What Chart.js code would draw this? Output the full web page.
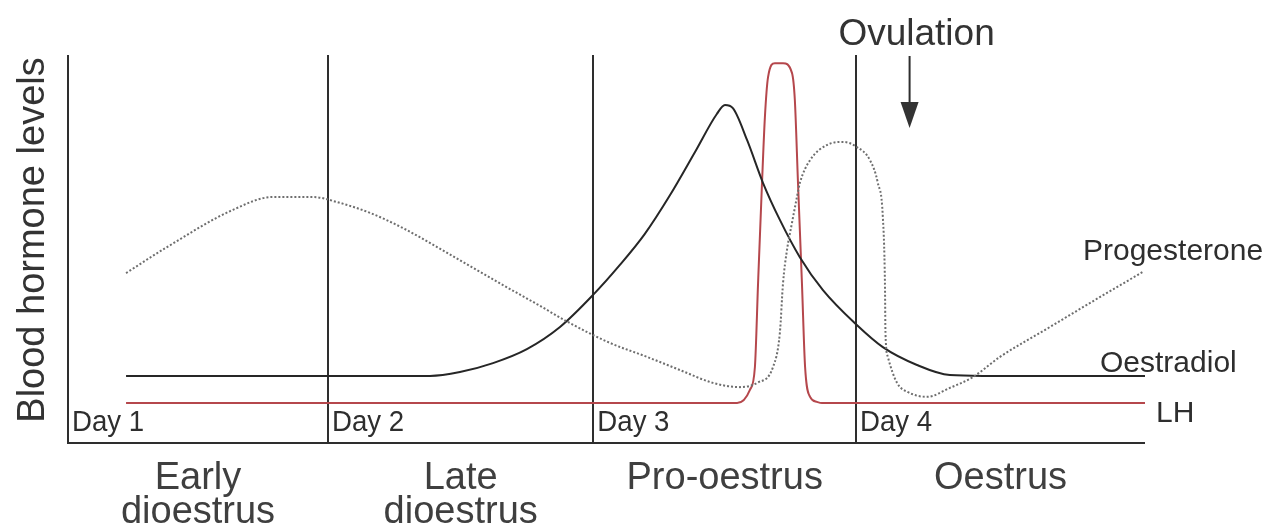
<!DOCTYPE html>
<html>
<head>
<meta charset="utf-8">
<script src="https://cdn.jsdelivr.net/npm/chart.js@4"></script>
<style>
  html, body { margin: 0; padding: 0; background: #fff; }
  #wrap { width: 1274px; height: 531px; }
</style>
</head>
<body>
<div id="wrap"><canvas id="cycleChart" width="1274" height="531"></canvas></div>
<script>
// Ciclo estral: niveles hormonales (x en días desde Day 1, y en unidades relativas 0-100)
const dayLines = [0.99, 2.0, 3.0];
const dayLabels = ['Day 1', 'Day 2', 'Day 3', 'Day 4'];
const phaseLabels = [['Early', 'dioestrus'], ['Late', 'dioestrus'], ['Pro-oestrus'], ['Oestrus']];
const xMax = 4.1;

const progX = [0.221, 0.377, 0.628, 0.780, 0.933, 1.024, 1.150, 1.275, 1.405, 1.530, 1.656, 1.785, 1.911, 2.063,
  2.204, 2.330, 2.455, 2.558, 2.623, 2.684, 2.710, 2.722, 2.737, 2.756, 2.775, 2.786, 2.825, 2.889, 2.950,
  3.003, 3.053, 3.083, 3.102, 3.110, 3.112, 3.121, 3.156, 3.198, 3.270, 3.357, 3.445, 3.548, 3.738, 3.928, 4.092];
const progY = [43.8, 50.5, 60.1, 63.4, 63.4, 62.1, 59.3, 55.4, 50.5, 45.6, 40.7, 35.8, 30.9, 25.8,
  22.2, 18.8, 15.5, 14.4, 15.5, 19.6, 28.4, 41.2, 49.7, 56.7, 63.4, 67.0, 72.9, 76.8, 77.6,
  76.3, 72.9, 67.0, 58.2, 41.2, 28.4, 22.2, 15.5, 13.1, 11.9, 14.2, 17.0, 22.2, 29.9, 37.6, 44.1];

const oestX = [0.221, 1.378, 1.492, 1.618, 1.747, 1.873, 1.998, 2.101, 2.196, 2.292, 2.387,
  2.470, 2.501, 2.531, 2.585, 2.646, 2.710, 2.786, 2.874, 3.003, 3.102, 3.232, 3.357, 3.483, 4.100];
const oestY = [17.3, 17.3, 18.3, 20.6, 24.2, 29.9, 38.1, 45.9, 53.9, 63.9, 75.0,
  84.8, 87.1, 86.3, 78.1, 67.0, 57.5, 47.9, 39.4, 30.4, 24.7, 20.1, 17.5, 17.3, 17.3];

const lhX = [0.221, 2.547, 2.596, 2.615, 2.627, 2.642, 2.653, 2.665, 2.691, 2.722, 2.756, 2.767, 2.779,
  2.794, 2.806, 2.825, 2.851, 2.870, 4.100];
const lhY = [10.3, 10.3, 13.7, 19.6, 41.2, 67.0, 84.0, 94.3, 97.9, 97.9, 95.4, 88.4, 67.0,
  41.2, 19.6, 11.9, 10.6, 10.3, 10.3];

function toPoints(xs, ys) {
  return xs.map((x, i) => ({ x: x, y: ys[i] }));
}

const INK = '#2e2e2e';
const FONT = '"Liberation Sans", Arial, sans-serif';

// Ejes, líneas de días y textos
const diagramPlugin = {
  id: 'diagram',
  beforeDatasetsDraw(chart) {
    const { ctx, chartArea, scales } = chart;
    const xs = scales.x;
    ctx.save();
    ctx.strokeStyle = INK;
    ctx.lineWidth = 2;
    ctx.beginPath();
    ctx.moveTo(chartArea.left, chartArea.top);
    ctx.lineTo(chartArea.left, chartArea.bottom);
    ctx.lineTo(chartArea.right, chartArea.bottom);
    dayLines.forEach(d => {
      const px = Math.round(xs.getPixelForValue(d));
      ctx.moveTo(px, chartArea.top);
      ctx.lineTo(px, chartArea.bottom);
    });
    ctx.stroke();
    ctx.restore();
  },
  afterDatasetsDraw(chart) {
    const { ctx, chartArea, scales } = chart;
    const xs = scales.x;
    const ys = scales.y;
    const starts = [0].concat(dayLines);
    const ends = dayLines.concat([xMax]);
    ctx.save();
    ctx.fillStyle = INK;
    ctx.textBaseline = 'alphabetic';

    // Day labels (algo condensadas)
    ctx.font = '30px ' + FONT;
    ctx.textAlign = 'left';
    starts.forEach((d, i) => {
      const px = xs.getPixelForValue(d) + 4;
      ctx.save();
      ctx.translate(px, chartArea.bottom - 12);
      ctx.scale(0.92, 1);
      ctx.fillText(dayLabels[i], 0, 0);
      ctx.restore();
    });

    // Fases del ciclo
    ctx.fillStyle = '#3f3f3f';
    ctx.font = '38px ' + FONT;
    ctx.textAlign = 'center';
    phaseLabels.forEach((lines, i) => {
      const cx = xs.getPixelForValue((starts[i] + ends[i]) / 2);
      lines.forEach((t, j) => {
        ctx.fillText(t, cx, chartArea.bottom + 46 + j * 34);
      });
    });

    // Nombres de las curvas
    ctx.fillStyle = INK;
    ctx.font = '30px ' + FONT;
    ctx.textAlign = 'left';
    ctx.fillText('Progesterone', chartArea.right - 62, 260);
    ctx.fillText('Oestradiol', chartArea.right - 45, ys.getPixelForValue(17.3) - 4);
    ctx.fillText('LH', chartArea.right + 11, ys.getPixelForValue(10.3) + 19);

    // Ovulación
    const ovX = xs.getPixelForValue(3.2);
    ctx.font = '37px ' + FONT;
    ctx.textAlign = 'center';
    ctx.fillStyle = '#333';
    ctx.fillText('Ovulation', ovX + 8, 45);
    ctx.strokeStyle = INK;
    ctx.lineWidth = 2;
    ctx.beginPath();
    ctx.moveTo(ovX + 1, 56);
    ctx.lineTo(ovX + 1, 104);
    ctx.stroke();
    ctx.beginPath();
    ctx.moveTo(ovX - 8, 102);
    ctx.lineTo(ovX + 10, 102);
    ctx.lineTo(ovX + 1, 128);
    ctx.closePath();
    ctx.fill();

    // Título del eje Y
    ctx.save();
    ctx.translate(44, 240);
    ctx.rotate(-Math.PI / 2);
    ctx.font = '38px ' + FONT;
    ctx.fillStyle = '#333';
    ctx.textAlign = 'center';
    ctx.fillText('Blood hormone levels', 0, 0);
    ctx.restore();

    ctx.restore();
  }
};

new Chart(document.getElementById('cycleChart'), {
  type: 'line',
  data: {
    datasets: [
      {
        label: 'Progesterone',
        data: toPoints(progX, progY),
        borderColor: '#6e6e6e',
        borderWidth: 2,
        borderDash: [2, 2],
        pointRadius: 0,
        cubicInterpolationMode: 'monotone',
        fill: false
      },
      {
        label: 'Oestradiol',
        data: toPoints(oestX, oestY),
        borderColor: '#262626',
        borderWidth: 2,
        pointRadius: 0,
        cubicInterpolationMode: 'monotone',
        fill: false
      },
      {
        label: 'LH',
        data: toPoints(lhX, lhY),
        borderColor: '#b5474c',
        borderWidth: 2,
        pointRadius: 0,
        cubicInterpolationMode: 'monotone',
        fill: false
      }
    ]
  },
  options: {
    responsive: false,
    animation: false,
    clip: false,
    layout: { padding: { left: 68, right: 129, top: 55, bottom: 88 } },
    plugins: {
      legend: { display: false },
      tooltip: { enabled: false }
    },
    scales: {
      x: { type: 'linear', min: 0, max: xMax, display: false },
      y: { min: 0, max: 100, display: false }
    }
  },
  plugins: [diagramPlugin]
});
</script>
</body>
</html>
